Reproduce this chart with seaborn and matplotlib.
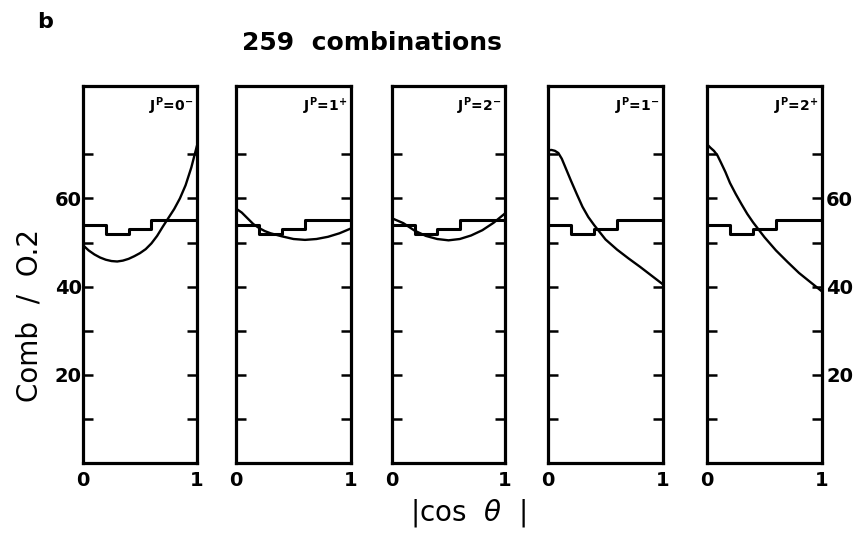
import matplotlib
matplotlib.use("Agg")
import matplotlib.pyplot as plt
import seaborn as sns
import pandas as pd

# ---- data ----
bin_centers = [0.1, 0.3, 0.5, 0.7, 0.9]
hist_counts = [54, 52, 53, 55, 55]

panel_labels = [r"J$^{P}$=0$^{-}$", r"J$^{P}$=1$^{+}$", r"J$^{P}$=2$^{-}$",
                r"J$^{P}$=1$^{-}$", r"J$^{P}$=2$^{+}$"]

curve_x_0m = [0, 0.05, 0.1, 0.15, 0.2, 0.25, 0.3, 0.35, 0.4, 0.45, 0.5, 0.55, 0.6,
              0.65, 0.7, 0.75, 0.8, 0.85, 0.9, 0.95, 1.0]
curve_y_0m = [49.4, 48.2, 47.3, 46.6, 46.1, 45.8, 45.7, 45.9, 46.3, 46.9, 47.6, 48.5, 49.8,
              51.5, 53.6, 55.6, 57.6, 60.0, 63.0, 67.0, 72.0]

curve_x_1p = [0, 0.05, 0.1, 0.15, 0.2, 0.25, 0.3, 0.4, 0.5, 0.6, 0.7, 0.8, 0.9, 1.0]
curve_y_1p = [57.7, 56.8, 55.5, 54.2, 53.3, 52.6, 52.1, 51.4, 50.8, 50.6, 50.8, 51.3, 52.1, 53.2]

curve_x_2m = [0, 0.1, 0.2, 0.3, 0.4, 0.5, 0.6, 0.7, 0.8, 0.9, 1.0]
curve_y_2m = [55.5, 54.4, 52.7, 51.5, 50.8, 50.5, 50.8, 51.6, 52.8, 54.5, 56.6]

curve_x_1m = [0, 0.03, 0.06, 0.09, 0.12, 0.16, 0.2, 0.25, 0.3, 0.35, 0.4, 0.5, 0.6,
              0.7, 0.8, 0.9, 1.0]
curve_y_1m = [70.9, 71.0, 70.8, 70.3, 69.0, 66.5, 64.0, 61.0, 58.1, 55.8, 54.0, 50.7, 48.4,
              46.4, 44.5, 42.5, 40.5]

curve_x_2p = [0, 0.03, 0.06, 0.09, 0.12, 0.16, 0.2, 0.25, 0.3, 0.35, 0.4, 0.5, 0.6,
              0.7, 0.8, 0.9, 1.0]
curve_y_2p = [72.3, 71.5, 70.8, 69.8, 68.2, 66.0, 63.5, 61.0, 58.7, 56.5, 54.6, 51.2, 48.2,
              45.6, 43.1, 41.0, 38.9]

curves = [(curve_x_0m, curve_y_0m), (curve_x_1p, curve_y_1p), (curve_x_2m, curve_y_2m),
          (curve_x_1m, curve_y_1m), (curve_x_2p, curve_y_2p)]

y_ticks = [10, 20, 30, 40, 50, 60, 70]
y_ticklabels = ["", "20", "", "40", "", "60", ""]
x_ticks = [0, 1]
x_ticklabels = ["0", "1"]

# ---- style ----
sns.set_theme(style="white")
plt.rcParams['font.family'] = ['DejaVu Sans']
plt.rcParams['mathtext.default'] = 'regular'
for k in ['text.color', 'axes.labelcolor', 'xtick.color', 'ytick.color', 'axes.edgecolor']:
    plt.rcParams[k] = 'black'

W, H = 859, 555
fig = plt.figure(figsize=(W / 100, H / 100), dpi=100)
fig.patch.set_facecolor("white")

panel_px = [(83, 197), (236, 351), (392, 505), (548, 663), (707, 822)]
top_px, bot_px = 86, 463

for i, ((l, r), (cx, cy)) in enumerate(zip(panel_px, curves)):
    ax = fig.add_axes([l / W, 1 - bot_px / H, (r - l) / W, (bot_px - top_px) / H])
    ax.set_facecolor("white")
    sns.histplot(x=bin_centers, weights=hist_counts, bins=5, binrange=(0, 1),
                 element="step", fill=False, color="black", linewidth=2.2, ax=ax)
    df = pd.DataFrame({"x": cx, "y": cy})
    sns.lineplot(data=df, x="x", y="y", sort=False, estimator=None,
                 color="black", linewidth=1.7, ax=ax)
    ax.set_xlim(0, 1)
    ax.set_ylim(0, 85.5)
    ax.set_xlabel("")
    ax.set_ylabel("")
    for s in ax.spines.values():
        s.set_visible(True)
        s.set_color("black")
        s.set_linewidth(2.3)
    ax.set_yticks(y_ticks)
    ax.tick_params(axis="y", which="both", direction="in", length=7, width=1.8,
                   left=True, right=True, color="black", labelsize=14, pad=1)
    if i == 0:
        ax.set_yticklabels(y_ticklabels, fontweight="bold")
        ax.tick_params(axis="y", labelleft=True, labelright=False)
    elif i == 4:
        ax.set_yticklabels(y_ticklabels, fontweight="bold")
        ax.tick_params(axis="y", labelleft=False, labelright=True, pad=3)
    else:
        ax.tick_params(axis="y", labelleft=False, labelright=False)
    ax.set_xticks(x_ticks)
    ax.set_xticklabels(x_ticklabels, fontweight="bold")
    ax.tick_params(axis="x", length=0, labelsize=14, pad=6)
    ax.text(0.97, 0.975, panel_labels[i], transform=ax.transAxes, ha="right", va="top",
            fontsize=10, fontweight="bold")

fig.text(45 / W, 1 - 22 / H, "b", fontsize=16, fontweight="bold", ha="center", va="center")
fig.text(372 / W, 1 - 43 / H, "259  combinations", fontsize=18, fontweight="bold",
         ha="center", va="center")
fig.text(30 / W, 1 - 315 / H, "Comb  /  O.2", fontsize=20, rotation=90,
         ha="center", va="center")
fig.text(468 / W, 1 - 513 / H, r"|cos  $\mathit{\theta}$  |", fontsize=20,
         ha="center", va="center")

fig.savefig("out.png", dpi=100, facecolor="white")
